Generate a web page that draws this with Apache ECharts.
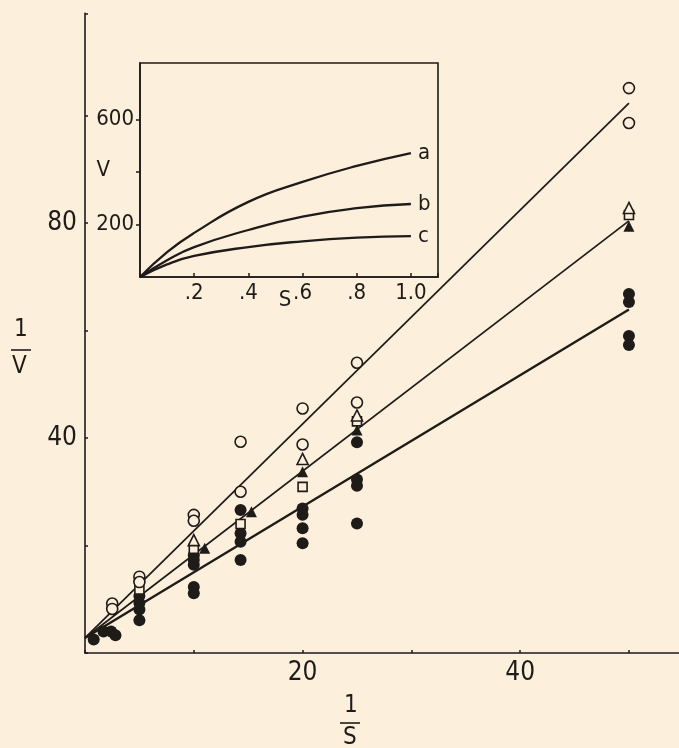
<!DOCTYPE html>
<html>
<head>
<meta charset="utf-8">
<script src="https://cdn.jsdelivr.net/npm/echarts@6/dist/echarts.min.js"></script>
<style>
html,body{margin:0;padding:0;background:#fcefdc;}
#c{width:679px;height:748px;}
</style>
</head>
<body>
<div id="c"></div>
<script>
// ---- data (main plot: 1/V vs 1/S) ----
const openCircle = [[2.5,9.2],[2.5,8.2],[5,14.2],[5,13.2],[10,25.7],[10,24.6],[14.3,39.3],[14.3,30.0],[20,45.5],[20,38.8],[25,54.0],[25,46.6],[50,105.1],[50,98.6]];
const openTriangle = [[10,21.0],[20,36.1],[25,44.2],[50,82.8]];
const openSquare = [[5,11.8],[10,19.4],[14.3,24.0],[20,30.9],[25,43.1],[50,81.5]];
const filledTriangle = [[11.0,19.5],[15.3,26.3],[20,33.7],[25,41.5],[50,79.4]];
const filledCircle = [[0.8,2.5],[1.7,4.0],[2.4,4.0],[2.8,3.3],
  [5,10.6],[5,9.3],[5,8.1],[5,6.1],
  [10,18.2],[10,17.3],[10,16.4],[10,12.3],[10,11.1],
  [14.3,26.6],[14.3,22.3],[14.3,20.7],[14.3,17.3],
  [20,26.9],[20,25.7],[20,23.2],[20,20.4],
  [25,39.2],[25,32.3],[25,31.1],[25,24.1],
  [50,66.8],[50,65.3],[50,59.0],[50,57.3]];
const fitA = [[0,2.8],[50,102.3]];
const fitB = [[0,2.8],[50,80.4]];
const fitC = [[0,2.8],[50,63.9]];
const mainXLabels = [20, 40];
const mainYLabels = [40, 80];

// ---- data (inset: V vs S) ----
const curveA = [[0,0],[0.1,95],[0.2,168],[0.4,286],[0.6,362],[0.8,423],[1.0,472]];
const curveB = [[0,0],[0.1,64],[0.2,114],[0.4,179],[0.6,230],[0.8,262],[1.0,278]];
const curveC = [[0,0],[0.1,48],[0.2,80],[0.4,114],[0.6,136],[0.8,150],[1.0,156]];
const insetXLabels = ['.2','.4','.6','.8','1.0'];
const insetYLabels = [200, 600];

const ink = '#1f1b18';
const bg = '#fcefdc';
const font = "'Liberation Sans Narrow','DejaVu Sans Condensed','Arial Narrow',sans-serif";

const chart = echarts.init(document.getElementById('c'), null, {renderer:'canvas'});

function openStyle(){ return {color:bg, borderColor:ink, borderWidth:1.6, opacity:1}; }

const option = {
  backgroundColor: bg,
  animation: false,
  grid: [
    {left:85, top:13.4, width:594, height:639.6, containLabel:false},
    {left:140, top:63, width:298, height:214, show:true, borderColor:ink, borderWidth:1.6, backgroundColor:bg, z:5}
  ],
  xAxis: [
    {type:'value', gridIndex:0, min:0, max:54.6, interval:10,
     axisLine:{show:true, lineStyle:{color:ink, width:1.6}},
     axisTick:{show:true, inside:true, length:3, lineStyle:{color:ink, width:1.5}},
     splitLine:{show:false},
     axisLabel:{margin:7, color:ink, fontSize:26, fontFamily:font, showMaxLabel:false,
       formatter:(v)=> mainXLabels.includes(v) ? String(v) : ''}},
    {type:'value', gridIndex:1, min:0, max:1.1, interval:0.2, z:6,
     axisLine:{show:true, lineStyle:{color:ink, width:1.6}},
     axisTick:{show:true, inside:true, length:4, lineStyle:{color:ink, width:1.5}},
     splitLine:{show:false},
     name:'S', nameLocation:'middle', nameGap:12, nameMoveOverlap:false,
     nameTextStyle:{color:ink, fontSize:22, fontFamily:font, padding:[0,8,0,0]},
     axisLabel:{margin:5, color:ink, fontSize:22, fontFamily:font,
       formatter:(v)=>{ const i = Math.round(v*5)-1; return (i>=0 && i<insetXLabels.length) ? insetXLabels[i] : ''; }}}
  ],
  yAxis: [
    {type:'value', gridIndex:0, min:0, max:119, interval:20,
     axisLine:{show:true, lineStyle:{color:ink, width:1.6}},
     axisTick:{show:true, inside:true, length:3, lineStyle:{color:ink, width:1.5}},
     splitLine:{show:false},
     axisLabel:{margin:8, color:ink, fontSize:26, fontFamily:font,
       formatter:(v)=> mainYLabels.includes(v) ? String(v) : ''}},
    {type:'value', gridIndex:1, min:0, max:815, interval:200, z:6,
     axisLine:{show:true, lineStyle:{color:ink, width:1.6}},
     axisTick:{show:true, inside:false, length:4, customValues:[200,400,600], lineStyle:{color:ink, width:1.5}},
     splitLine:{show:false},
     name:'V', nameLocation:'middle', nameGap:30, nameRotate:0, nameMoveOverlap:false,
     nameTextStyle:{color:ink, fontSize:22, fontFamily:font},
     axisLabel:{margin:6, color:ink, fontSize:22, fontFamily:font,
       formatter:(v)=> insetYLabels.includes(v) ? String(v) : ''}}
  ],
  series: [
    {type:'line', xAxisIndex:0, yAxisIndex:0, data:fitA, showSymbol:false, z:2, lineStyle:{color:ink, width:1.7}},
    {type:'line', xAxisIndex:0, yAxisIndex:0, data:fitB, showSymbol:false, z:2, lineStyle:{color:ink, width:1.7}},
    {type:'line', xAxisIndex:0, yAxisIndex:0, data:fitC, showSymbol:false, z:2, lineStyle:{color:ink, width:2.4}},
    {type:'scatter', xAxisIndex:0, yAxisIndex:0, data:filledCircle, symbol:'circle', symbolSize:12, z:3, itemStyle:{color:ink, opacity:1}},
    {type:'scatter', xAxisIndex:0, yAxisIndex:0, data:filledTriangle, symbol:'triangle', symbolSize:11, z:3, itemStyle:{color:ink, opacity:1}},
    {type:'scatter', xAxisIndex:0, yAxisIndex:0, data:openSquare, symbol:'rect', symbolSize:9, z:4, itemStyle:openStyle()},
    {type:'scatter', xAxisIndex:0, yAxisIndex:0, data:openTriangle, symbol:'triangle', symbolSize:11, z:4, itemStyle:openStyle()},
    {type:'scatter', xAxisIndex:0, yAxisIndex:0, data:openCircle, symbol:'circle', symbolSize:11, z:4, itemStyle:openStyle()},
    {type:'line', name:'a', xAxisIndex:1, yAxisIndex:1, data:curveA, smooth:true, showSymbol:false, z:7,
     lineStyle:{color:ink, width:2.3},
     endLabel:{show:true, formatter:'a', distance:7, color:ink, fontSize:22, fontFamily:font}},
    {type:'line', name:'b', xAxisIndex:1, yAxisIndex:1, data:curveB, smooth:true, showSymbol:false, z:7,
     lineStyle:{color:ink, width:2.3},
     endLabel:{show:true, formatter:'b', distance:7, color:ink, fontSize:22, fontFamily:font}},
    {type:'line', name:'c', xAxisIndex:1, yAxisIndex:1, data:curveC, smooth:true, showSymbol:false, z:7,
     lineStyle:{color:ink, width:2.3},
     endLabel:{show:true, formatter:'c', distance:7, color:ink, fontSize:22, fontFamily:font}}
  ],
  graphic: [
    {type:'text', left:14, top:318, style:{text:'1', fill:ink, fontSize:24, fontFamily:font}},
    {type:'line', shape:{x1:11, y1:350, x2:31, y2:350}, style:{stroke:ink, lineWidth:1.6}},
    {type:'text', left:12, top:355, style:{text:'V', fill:ink, fontSize:24, fontFamily:font}},
    {type:'text', left:344, top:694, style:{text:'1', fill:ink, fontSize:24, fontFamily:font}},
    {type:'line', shape:{x1:340, y1:723, x2:360, y2:723}, style:{stroke:ink, lineWidth:1.6}},
    {type:'text', left:343, top:726, style:{text:'S', fill:ink, fontSize:24, fontFamily:font}}
  ]
};
chart.setOption(option);
</script>
</body>
</html>
